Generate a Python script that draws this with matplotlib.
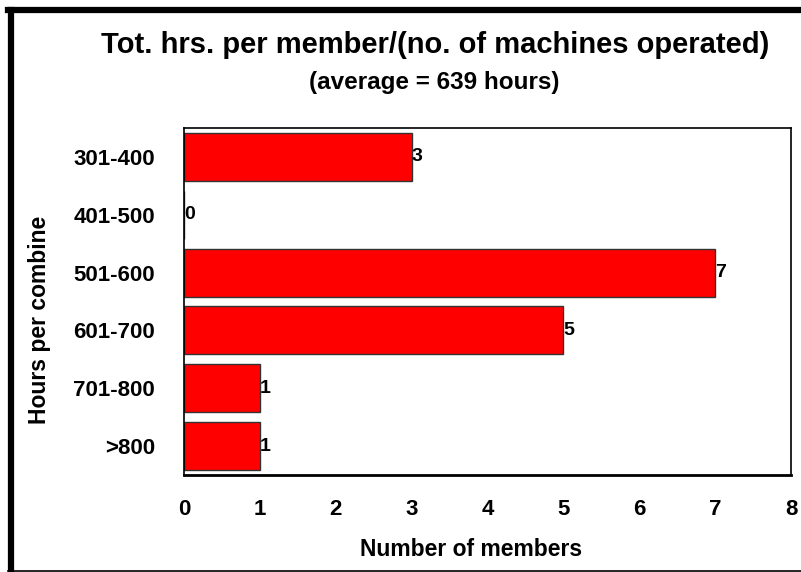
import matplotlib.pyplot as plt
from matplotlib.lines import Line2D
import numpy as np

plt.rcParams['font.family'] = ['Liberation Sans', 'DejaVu Sans']
plt.rcParams['font.weight'] = 'bold'

categories = ['301-400', '401-500', '501-600', '601-700', '701-800', '>800']
members = [3, 0, 7, 5, 1, 1]

fig = plt.figure(figsize=(8.01, 5.72), dpi=100)
ax = fig.add_axes([184/801, 1-475/572, (791-184)/801, (475-128)/572])

y = np.arange(len(categories))
ax.barh(y, members, height=0.83, color='#ff0000', edgecolor='#333333', linewidth=1)
for yi, v in zip(y, members):
    ax.text(v, yi, str(v), ha='left', va='center', fontsize=14, fontweight='bold')

ax.set_xlim(0, 8)
ax.set_ylim(len(categories) - 0.5, -0.5)
ax.set_yticks(y)
ax.set_yticklabels(categories, fontsize=16, fontweight='bold')
ax.set_xticks(range(9))
ax.set_xticklabels([str(i) for i in range(9)], fontsize=16, fontweight='bold')
ax.tick_params(length=0)
ax.tick_params(axis='y', pad=21)
ax.tick_params(axis='x', pad=17)
for s in ax.spines.values():
    s.set_linewidth(1.2)
ax.spines['bottom'].set_linewidth(2)

fig.text(471/801, 1-549/572, 'Number of members', ha='center', va='center',
         fontsize=16.5, fontweight='bold')
fig.text(40/801, 1-320/572, 'Hours per combine', rotation=90, ha='center', va='center',
         fontsize=16.5, fontweight='bold')

fig.text(435/801, 1-45/572, 'Tot. hrs. per member/(no. of machines operated)',
         ha='center', va='center', fontsize=21, fontweight='bold')
fig.text(434/801, 1-83/572, '(average = 639 hours)',
         ha='center', va='center', fontsize=17.5, fontweight='bold')

# frame around the chart
fig.add_artist(Line2D([10.5/801, 10.5/801], [1-9.5/572, 1-570.5/572], color='black', lw=4.5,
                      transform=fig.transFigure))
fig.add_artist(Line2D([8/801, 1.0], [1-9.5/572, 1-9.5/572], color='black', lw=4.5,
                      transform=fig.transFigure))
fig.add_artist(Line2D([8/801, 1.0], [1-570.5/572, 1-570.5/572], color='black', lw=1.2,
                      transform=fig.transFigure))

fig.savefig('out.png', dpi=100)
